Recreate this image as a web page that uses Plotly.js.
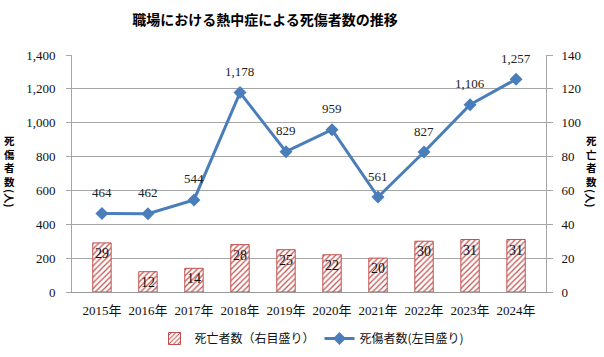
<!DOCTYPE html>
<html>
<head>
<meta charset="utf-8">
<script src="https://cdn.plot.ly/plotly-3.0.1.min.js"></script>
<style>html,body{margin:0;padding:0;background:#fff;}#chart{width:604px;height:357px;}</style>
</head>
<body>
<div id="chart"></div>
<script>
const years = ["2015年","2016年","2017年","2018年","2019年","2020年","2021年","2022年","2023年","2024年"];
const injuries = [464, 462, 544, 1178, 829, 959, 561, 827, 1106, 1257];
const deaths = [29, 12, 14, 28, 25, 22, 20, 30, 31, 31];
const leftTicks = [0, 200, 400, 600, 800, 1000, 1200, 1400];
const rightTicks = [0, 20, 40, 60, 80, 100, 120, 140];

const SERIF = "'Liberation Serif', 'Times New Roman', 'Noto Sans CJK JP', serif";
const CJK = "'Noto Sans CJK JP', sans-serif";

const M = {l: 72, r: 58, t: 55, b: 65, autoexpand: false};
const W = 604, H = 357;
const pw = W - M.l - M.r, ph = H - M.t - M.b;
const px2x = p => (p - M.l) / pw;
const py2y = p => (H - M.b - p) / ph;

const bars = {
  type: 'bar', name: '死亡者数（右目盛り）', x: years, y: deaths, yaxis: 'y2',
  width: 0.4,
  marker: {color: '#ffffff', line: {color: '#c0504d', width: 1},
    pattern: {shape: '/', fgcolor: '#c0504d', bgcolor: '#ffffff', size: 4, solidity: 0.3}},
  text: deaths.map(String), textposition: 'inside', insidetextanchor: 'end',
  constraintext: 'none', textangle: 0,
  insidetextfont: {family: SERIF, size: 14, color: '#111'},
  hoverinfo: 'skip'
};
const line = {
  type: 'scatter', mode: 'lines+markers', name: '死傷者数(左目盛り)', x: years, y: injuries,
  line: {color: '#4a7ebb', width: 3},
  marker: {symbol: 'diamond', size: 10, color: '#4a7ebb'},
  hoverinfo: 'skip'
};

const ann = injuries.map((v, i) => ({
  x: years[i], y: v, xref: 'x', yref: 'y', text: v.toLocaleString('en-US'),
  showarrow: false, yshift: 21, font: {family: SERIF, size: 13, color: '#222'}
}));

function vtext(chars, xpx) {
  const f = {family: CJK, size: 10.5, color: '#000', weight: 'bold'};
  return [
    {xref: 'paper', yref: 'paper', x: px2x(xpx), y: py2y(161), text: chars.join('<br>'),
      showarrow: false, xanchor: 'center', yanchor: 'middle', font: f},
    {xref: 'paper', yref: 'paper', x: px2x(xpx), y: py2y(198), text: '(人)', textangle: 90,
      showarrow: false, xanchor: 'center', yanchor: 'middle', font: f}
  ];
}
const axTitles = [].concat(vtext(['死','傷','者','数'], 10), vtext(['死','亡','者','数'], 591));

const layout = {
  width: W, height: H, margin: M,
  paper_bgcolor: '#fff', plot_bgcolor: '#fff',
  title: {text: '職場における熱中症による死傷者数の推移', x: 265 / W, xanchor: 'center', y: 1 - 20 / H, yanchor: 'middle',
    font: {family: CJK, size: 14, color: '#000', weight: 'bold'}},
  xaxis: {type: 'category', showgrid: false, showline: true, linecolor: '#999', linewidth: 1,
    ticks: '', tickfont: {family: SERIF, size: 13, color: '#111'}, ticklabelstandoff: 6, fixedrange: true},
  yaxis: {range: [0, 1400], tickvals: leftTicks, ticktext: leftTicks.map(v => v.toLocaleString('en-US')),
    showgrid: true, gridcolor: '#a6a6a6', gridwidth: 1, zeroline: false,
    showline: true, linecolor: '#a6a6a6', linewidth: 1, ticks: 'outside', ticklen: 5, tickcolor: '#a6a6a6',
    tickfont: {family: SERIF, size: 13, color: '#111'}, ticklabelstandoff: 8, fixedrange: true},
  yaxis2: {range: [0, 140], tickvals: rightTicks, overlaying: 'y', side: 'right', showgrid: false, zeroline: false,
    showline: true, linecolor: '#a6a6a6', linewidth: 1, ticks: 'outside', ticklen: 6, tickcolor: '#a6a6a6',
    tickfont: {family: SERIF, size: 13, color: '#111'}, ticklabelstandoff: 6, fixedrange: true},
  showlegend: true,
  legend: {orientation: 'h', x: px2x(312), xanchor: 'center', y: py2y(324), yanchor: 'top',
    font: {family: CJK, size: 12, color: '#111'}, itemwidth: 30, bgcolor: 'rgba(0,0,0,0)'},
  annotations: ann.concat(axTitles),
  bargap: 0.6
};

Plotly.newPlot('chart', [bars, line], layout, {staticPlot: true, displayModeBar: false});
</script>
</body>
</html>
